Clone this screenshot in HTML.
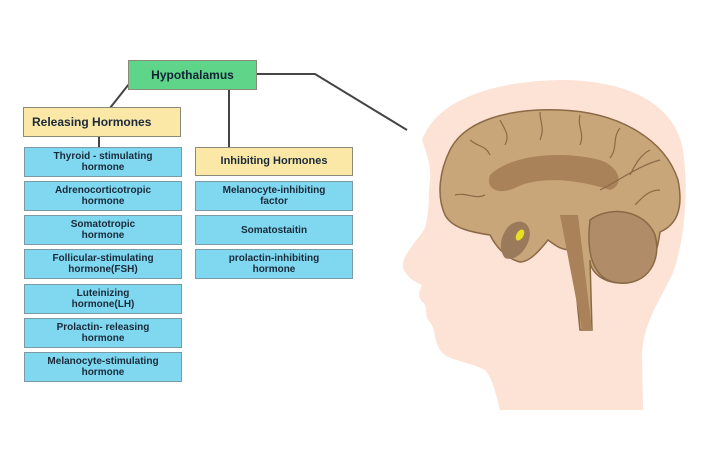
<!DOCTYPE html>
<html><head><meta charset="utf-8"><style>
body{margin:0;width:720px;height:450px;background:#fff;position:relative;overflow:hidden;font-family:"Liberation Sans",sans-serif}
.b{position:absolute;box-sizing:border-box;border:1.5px solid #8a8a7a;display:flex;align-items:center;justify-content:center;text-align:center;font-weight:bold;color:#1a2a3a;line-height:11px}
.c{background:#7fd8f0;font-size:10px;width:158px;height:30px;left:24px;border-color:#7a9aa5}
.i{left:195px}
.y{background:#fbe8a6;font-size:12px}
</style></head><body>
<svg width="720" height="450" style="position:absolute;left:0;top:0">
<g stroke="#444" stroke-width="2" fill="none">
<line x1="129" y1="84" x2="110" y2="108"/>
<line x1="229" y1="90" x2="229" y2="148"/>
<line x1="99" y1="137" x2="99" y2="148"/>
<polyline points="257,74 315,74 407,130"/>
</g>
<path d="M422,140 C435,105 480,82 560,80 C630,80 675,105 683,150 C690,200 682,250 672,275 C657,305 643,325 642,355 L643,410 L500,410 C495,390 492,378 485,370 C470,362 445,360 440,350 C433,338 436,330 430,322 C424,316 428,310 424,303 C416,298 420,290 422,285 C410,280 402,272 403,263 C405,252 418,240 425,228 C430,210 428,195 430,180 C432,165 425,150 422,140 Z" fill="#fde2d6"/>
<path d="M450,150 C465,120 510,108 560,110 C620,112 665,140 678,180 C684,210 676,225 660,232 C655,270 640,285 620,283 C600,282 590,270 590,260 L592,330 L580,330 L572,250 C560,250 555,245 548,240 C540,250 530,262 520,262 C505,258 495,245 490,235 C470,232 452,228 445,215 C436,195 440,170 450,150 Z" fill="#c9a57a" stroke="#8a6a45" stroke-width="1.5"/>
<path d="M490,175 C510,155 560,150 600,160 C620,167 625,185 610,190 C580,180 540,175 515,188 C500,195 485,190 490,175 Z" fill="#a9825a"/>
<path d="M590,220 C610,205 645,210 655,235 C662,260 648,285 620,283 C598,282 585,262 590,220 Z" fill="#b08d68" stroke="#8a6a45" stroke-width="1.5"/>
<path d="M560,215 L578,215 L592,330 L582,330 Z" fill="#a9825a"/>
<path d="M510,225 C520,218 530,222 530,235 C528,250 515,262 505,258 C498,250 500,235 510,225 Z" fill="#9a7a5a"/>
<ellipse cx="520" cy="235" rx="3.5" ry="6" transform="rotate(30 520 235)" fill="#e6e020"/>
<g stroke="#8a6a45" stroke-width="1.2" fill="none">
<path d="M470,140 c10,8 15,5 20,15 M500,120 c5,10 10,15 5,25 M540,112 c0,12 5,15 0,28 M580,115 c-3,12 5,18 0,30 M620,128 c-8,10 -2,20 -10,30 M650,150 c-10,5 -15,15 -20,25 M660,190 c-12,0 -18,8 -25,15 M455,195 c12,-3 20,5 30,0 M600,190 c20,-10 40,-25 60,-30"/>
</g>
</svg>
<div class="b" style="left:128px;top:60px;width:129px;height:30px;background:#5fd58a;font-size:12px;color:#123">Hypothalamus</div>
<div class="b y" style="left:23px;top:107px;width:158px;height:30px;justify-content:flex-start;padding-left:8px">Releasing Hormones</div>
<div class="b y" style="left:195px;top:147px;width:158px;height:29px;font-size:11px">Inhibiting Hormones</div>
<div class="b c" style="top:147px">Thyroid - stimulating<br>hormone</div>
<div class="b c" style="top:181px">Adrenocorticotropic<br>hormone</div>
<div class="b c" style="top:215px">Somatotropic<br>hormone</div>
<div class="b c" style="top:249px">Follicular-stimulating<br>hormone(FSH)</div>
<div class="b c" style="top:284px">Luteinizing<br>hormone(LH)</div>
<div class="b c" style="top:318px">Prolactin- releasing<br>hormone</div>
<div class="b c" style="top:352px">Melanocyte-stimulating<br>hormone</div>
<div class="b c i" style="top:181px">Melanocyte-inhibiting<br>factor</div>
<div class="b c i" style="top:215px">Somatostaitin</div>
<div class="b c i" style="top:249px">prolactin-inhibiting<br>hormone</div>
</body></html>
